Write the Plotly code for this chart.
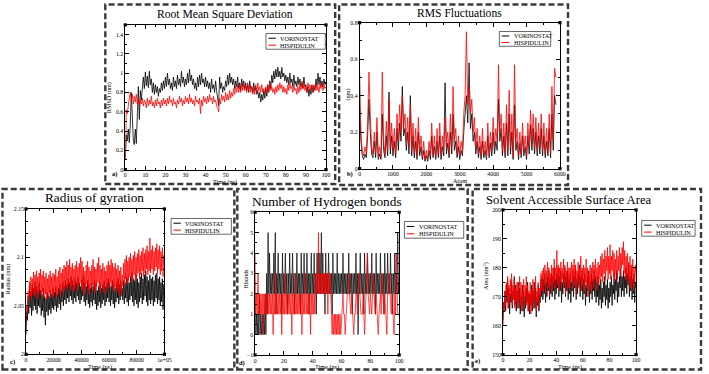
import numpy as np
import plotly.graph_objects as go

W, H = 709, 374
SERIF = "Liberation Serif"

series_names = ["VORINOSTAT", "HISPIDULIN"]
series_colors = ["#000000", "#ff0000"]

# ---------------- a) RMSD (nm) vs time (ns) ----------------
rmsd_time_ns = np.arange(0, 100.001, 0.5)
rmsd_vorinostat = [
    0.10,0.36,0.30,0.42,0.28,0.47,0.80,0.50,0.30,0.26,0.42,0.27,0.58,0.86,0.52,0.82,0.72,0.90,0.96,0.84,
    1.01,0.87,0.97,0.85,1.02,0.88,0.94,0.80,0.90,0.78,0.88,0.80,0.86,0.76,0.84,0.80,0.90,0.82,0.92,0.84,
    0.96,0.86,1.00,0.88,0.94,0.84,0.90,0.82,0.96,0.86,0.92,0.84,0.98,0.88,0.94,0.86,1.02,0.90,0.96,0.86,
    0.94,0.88,1.00,0.90,1.04,0.92,0.98,0.88,0.94,0.84,0.90,0.82,0.96,0.86,0.98,0.88,1.00,0.90,0.94,0.86,
    0.96,0.86,0.92,0.84,0.90,0.80,0.94,0.84,0.88,0.80,0.92,0.82,0.72,0.66,0.96,0.84,0.90,0.80,0.86,0.82,
    0.92,0.86,0.98,0.88,1.00,0.90,0.96,0.88,0.94,0.84,0.92,0.86,0.96,0.84,0.90,0.82,0.94,0.86,0.92,0.84,
    0.90,0.82,0.88,0.80,0.92,0.84,0.86,0.80,0.90,0.82,0.86,0.78,0.82,0.74,0.80,0.70,0.78,0.72,0.82,0.74,
    0.84,0.76,0.88,0.80,0.92,0.84,0.98,0.90,1.02,0.94,1.04,0.96,1.06,0.96,1.02,0.94,1.06,0.96,1.00,0.92,
    0.98,0.90,0.96,0.88,1.00,0.90,0.94,0.86,0.98,0.88,0.92,0.86,0.96,0.88,0.94,0.86,0.90,0.84,0.96,0.86,
    0.88,0.80,0.86,0.76,0.84,0.78,0.88,0.80,0.86,0.82,0.94,0.86,1.00,0.88,0.96,0.86,0.92,0.86,0.94,0.88,
    0.90]
rmsd_hispidulin = [
    0.10,0.62,0.58,0.70,0.74,0.80,0.72,0.78,0.68,0.76,0.70,0.78,0.68,0.74,0.66,0.72,0.68,0.74,0.66,0.72,
    0.70,0.64,0.74,0.66,0.72,0.68,0.76,0.66,0.70,0.64,0.72,0.66,0.74,0.68,0.70,0.64,0.72,0.66,0.74,0.68,
    0.72,0.66,0.74,0.68,0.76,0.70,0.72,0.66,0.74,0.68,0.70,0.64,0.72,0.68,0.76,0.70,0.74,0.66,0.72,0.68,
    0.76,0.70,0.74,0.68,0.78,0.70,0.74,0.68,0.72,0.66,0.76,0.70,0.72,0.68,0.74,0.58,0.72,0.66,0.76,0.70,
    0.74,0.68,0.76,0.70,0.78,0.72,0.74,0.68,0.76,0.70,0.72,0.66,0.64,0.60,0.74,0.68,0.78,0.72,0.76,0.70,
    0.80,0.72,0.78,0.72,0.82,0.74,0.80,0.76,0.84,0.78,0.86,0.80,0.88,0.80,0.86,0.80,0.90,0.82,0.88,0.82,
    0.86,0.80,0.90,0.82,0.88,0.80,0.86,0.78,0.84,0.78,0.88,0.80,0.90,0.82,0.86,0.80,0.88,0.80,0.84,0.78,
    0.86,0.80,0.88,0.82,0.90,0.82,0.86,0.80,0.84,0.78,0.86,0.80,0.88,0.82,0.90,0.84,0.88,0.80,0.86,0.80,
    0.84,0.78,0.88,0.82,0.90,0.84,0.86,0.80,0.88,0.82,0.84,0.78,0.86,0.80,0.88,0.82,0.92,0.84,0.88,0.82,
    0.86,0.80,0.90,0.84,0.88,0.82,0.86,0.80,0.88,0.84,0.90,0.82,0.86,0.80,0.88,0.84,0.90,0.82,0.88,0.84,
    0.86]

# ---------------- b) RMS fluctuations (nm) vs atom ----------------
rmsf_atom = np.arange(0, 5881, 40)
rmsf_vorinostat = [
    0.35,0.15,0.07,0.05,0.08,0.06,0.18,0.38,0.20,0.08,
    0.06,0.15,0.06,0.20,0.05,0.08,0.05,0.30,0.10,0.06,
    0.18,0.07,0.42,0.08,0.18,0.07,0.15,0.06,0.22,0.10,
    0.25,0.15,0.45,0.18,0.22,0.10,0.20,0.08,0.40,0.07,
    0.18,0.06,0.15,0.05,0.20,0.07,0.12,0.05,0.10,0.04,
    0.07,0.04,0.10,0.05,0.18,0.06,0.12,0.05,0.15,0.06,
    0.18,0.05,0.12,0.07,0.47,0.08,0.14,0.06,0.20,0.08,
    0.30,0.10,0.15,0.06,0.12,0.05,0.10,0.07,0.20,0.28,
    0.40,0.25,0.58,0.22,0.30,0.15,0.20,0.08,0.15,0.06,
    0.12,0.05,0.15,0.06,0.10,0.05,0.18,0.06,0.14,0.07,
    0.20,0.08,0.15,0.10,0.38,0.15,0.22,0.07,0.18,0.06,
    0.25,0.07,0.30,0.08,0.20,0.05,0.35,0.10,0.15,0.05,
    0.14,0.06,0.18,0.07,0.12,0.05,0.18,0.08,0.24,0.10,
    0.22,0.08,0.20,0.07,0.18,0.08,0.22,0.07,0.18,0.06,
    0.15,0.07,0.22,0.06,0.30,0.10,0.40,0.35]
rmsf_hispidulin = [
    0.53,0.20,0.10,0.07,0.12,0.08,0.25,0.53,0.30,0.12,
    0.08,0.20,0.09,0.28,0.07,0.12,0.06,0.53,0.15,0.08,
    0.26,0.10,0.38,0.12,0.25,0.10,0.22,0.08,0.30,0.15,
    0.35,0.20,0.40,0.22,0.30,0.15,0.28,0.12,0.35,0.10,
    0.25,0.08,0.22,0.07,0.28,0.10,0.18,0.06,0.15,0.05,
    0.10,0.05,0.15,0.07,0.25,0.08,0.18,0.06,0.22,0.08,
    0.25,0.07,0.18,0.10,0.28,0.12,0.20,0.08,0.30,0.12,
    0.45,0.15,0.22,0.08,0.18,0.07,0.15,0.10,0.30,0.40,
    0.75,0.35,0.45,0.30,0.38,0.20,0.28,0.12,0.22,0.08,
    0.18,0.07,0.22,0.08,0.15,0.06,0.25,0.08,0.20,0.10,
    0.28,0.12,0.22,0.15,0.57,0.20,0.30,0.10,0.25,0.08,
    0.35,0.10,0.43,0.12,0.30,0.06,0.57,0.15,0.22,0.07,
    0.20,0.08,0.25,0.10,0.18,0.07,0.25,0.12,0.32,0.15,
    0.30,0.12,0.28,0.10,0.25,0.12,0.30,0.10,0.25,0.08,
    0.22,0.10,0.30,0.08,0.45,0.15,0.55,0.50]

# ---------------- c) Radius of gyration (nm) vs time (ps) ----------------
rg_time_ps = np.arange(0, 100001, 500)
rg_vorinostat = [
    2.020,2.045,2.035,2.060,2.042,2.070,2.048,2.065,2.040,2.072,2.045,2.068,2.050,2.075,2.046,2.070,2.042,2.066,2.050,2.074,
    2.048,2.066,2.040,2.062,2.045,2.068,2.038,2.060,2.030,2.058,2.044,2.064,2.040,2.060,2.046,2.066,2.042,2.062,2.048,2.068,
    2.046,2.064,2.050,2.070,2.044,2.062,2.048,2.068,2.052,2.072,2.046,2.066,2.054,2.074,2.050,2.070,2.056,2.076,2.052,2.072,
    2.058,2.078,2.054,2.074,2.060,2.080,2.056,2.076,2.052,2.072,2.058,2.078,2.054,2.074,2.060,2.080,2.056,2.074,2.052,2.070,
    2.056,2.076,2.060,2.082,2.054,2.074,2.050,2.070,2.056,2.076,2.052,2.072,2.048,2.068,2.054,2.074,2.050,2.070,2.056,2.076,
    2.052,2.072,2.046,2.066,2.050,2.070,2.054,2.074,2.048,2.068,2.052,2.072,2.056,2.076,2.050,2.070,2.054,2.074,2.058,2.078,
    2.054,2.074,2.050,2.070,2.056,2.076,2.052,2.072,2.048,2.068,2.054,2.074,2.058,2.078,2.052,2.072,2.056,2.076,2.060,2.068,
    2.056,2.076,2.052,2.074,2.058,2.080,2.054,2.078,2.050,2.074,2.056,2.080,2.060,2.084,2.054,2.078,2.050,2.076,2.056,2.082,
    2.052,2.078,2.048,2.074,2.054,2.080,2.058,2.084,2.052,2.078,2.056,2.082,2.060,2.086,2.054,2.080,2.050,2.076,2.056,2.082,
    2.052,2.078,2.056,2.080,2.050,2.076,2.054,2.082,2.058,2.084,2.052,2.078,2.056,2.080,2.050,2.074,2.054,2.078,2.046,2.072,
    2.062]
rg_hispidulin = [
    2.030,2.050,2.045,2.065,2.055,2.075,2.060,2.080,2.058,2.078,2.062,2.085,2.060,2.082,2.064,2.086,2.058,2.080,2.062,2.084,
    2.066,2.088,2.060,2.082,2.064,2.086,2.058,2.080,2.062,2.084,2.056,2.078,2.060,2.082,2.064,2.086,2.058,2.080,2.062,2.084,
    2.060,2.082,2.064,2.088,2.058,2.080,2.062,2.086,2.066,2.090,2.060,2.084,2.064,2.088,2.068,2.092,2.066,2.090,2.070,2.096,
    2.068,2.092,2.072,2.098,2.066,2.090,2.070,2.094,2.064,2.088,2.068,2.092,2.072,2.096,2.066,2.090,2.070,2.094,2.074,2.100,
    2.070,2.096,2.066,2.090,2.062,2.086,2.068,2.092,2.072,2.096,2.066,2.090,2.062,2.086,2.068,2.092,2.072,2.098,2.066,2.090,
    2.064,2.088,2.070,2.094,2.074,2.100,2.068,2.092,2.064,2.088,2.070,2.094,2.066,2.090,2.062,2.086,2.068,2.092,2.072,2.096,
    2.068,2.092,2.074,2.098,2.070,2.094,2.066,2.090,2.070,2.094,2.064,2.088,2.068,2.092,2.062,2.086,2.066,2.090,2.060,2.082,
    2.070,2.094,2.074,2.098,2.078,2.102,2.072,2.096,2.076,2.100,2.080,2.104,2.074,2.098,2.078,2.102,2.082,2.106,2.076,2.100,
    2.080,2.104,2.084,2.108,2.078,2.102,2.082,2.106,2.086,2.110,2.080,2.104,2.084,2.108,2.088,2.112,2.082,2.106,2.086,2.120,
    2.084,2.108,2.088,2.112,2.082,2.106,2.086,2.110,2.090,2.114,2.084,2.108,2.088,2.112,2.082,2.106,2.086,2.110,2.080,2.102,
    2.092]

# ---------------- d) Number of hydrogen bonds vs time (ns) ----------------
hb_time_ns = np.arange(0, 100.001, 0.5)
hb_vorinostat = [
    2,0,1,0,1,0,2,0,1,0,1,0,1,0,2,0,3,1,5,2,
    4,2,3,2,3,2,4,2,5,1,3,2,4,2,3,2,3,1,4,2,
    3,2,4,2,3,1,3,2,4,2,3,2,4,2,3,1,3,2,4,2,
    3,2,3,1,4,2,3,2,4,2,3,2,4,2,3,1,3,2,4,2,
    3,2,4,2,3,1,4,2,4,2,4,2,5,2,4,2,3,1,4,2,
    3,2,4,2,3,2,3,1,4,2,3,2,3,2,4,2,3,2,3,2,
    3,2,4,2,3,2,3,2,3,2,4,2,3,2,3,1,3,2,3,2,
    4,2,3,0,3,2,4,2,3,2,3,1,4,2,3,2,4,2,3,2,
    3,2,4,2,3,2,3,1,4,2,3,2,3,2,4,2,3,2,3,1,
    4,2,3,2,4,2,3,2,4,2,3,1,3,2,4,2,3,2,5,2,
    3]
hb_hispidulin = [
    4,1,2,1,3,1,2,1,2,1,2,0,2,1,2,1,2,1,2,1,
    2,1,2,1,2,0,2,1,3,1,2,1,2,1,2,1,2,0,2,1,
    2,1,3,1,2,1,2,1,2,1,2,0,2,1,2,1,3,1,2,1,
    2,1,2,1,2,0,2,1,2,1,3,1,2,1,2,1,2,0,2,1,
    2,1,2,1,3,2,3,2,5,2,3,2,3,2,3,2,3,2,3,2,
    3,1,3,2,3,1,1,0,1,0,1,0,1,0,1,0,1,0,1,0,
    1,1,2,1,1,0,1,1,2,2,3,2,1,1,2,1,1,0,1,1,
    2,2,1,1,3,2,2,1,1,1,2,1,0,1,2,2,4,2,1,1,
    2,1,1,2,3,2,1,1,2,1,1,0,1,2,2,1,3,2,1,1,
    2,1,1,0,2,2,3,2,1,1,2,1,1,0,2,1,4,2,1,1,
    1]

# ---------------- e) SASA (nm^2) vs time (ns) ----------------
sasa_time_ns = np.arange(0, 100.001, 0.5)
sasa_vorinostat = [
    162,168,166,172,165,174,168,176,166,173,164,171,168,175,166,172,169,177,167,174,
    165,172,168,175,166,173,164,170,167,174,165,172,163,170,166,173,168,175,165,171,
    164,171,167,174,165,172,168,175,166,173,163,170,167,174,165,171,168,176,170,177,
    169,176,171,178,168,175,170,177,172,179,169,176,171,178,170,177,172,180,169,176,
    171,178,173,180,170,177,172,179,168,175,171,178,173,180,170,177,172,179,169,176,
    171,178,168,175,172,179,170,177,173,180,169,176,171,178,174,181,170,177,172,179,
    169,176,171,178,167,174,170,177,172,179,168,175,171,178,169,176,172,179,170,177,
    168,175,170,177,167,174,169,176,166,173,168,175,170,177,167,174,169,176,166,173,
    168,175,170,177,167,174,171,178,169,176,172,179,168,175,170,177,173,180,170,177,
    172,179,170,177,173,180,171,178,174,181,170,177,172,179,169,176,171,178,168,175,
    173]
sasa_hispidulin = [
    160,168,165,172,167,175,169,177,166,174,168,176,170,178,167,174,169,176,166,173,
    168,175,166,174,169,177,167,175,165,172,168,176,166,174,170,177,167,174,165,172,
    167,175,164,172,168,176,166,173,169,177,165,172,168,175,166,173,170,178,172,179,
    172,180,174,181,171,179,175,182,173,180,170,178,174,181,172,180,175,183,173,180,
    176,186,174,181,172,180,175,182,173,180,176,183,174,181,171,179,175,182,173,180,
    172,180,175,182,173,181,176,183,174,181,171,179,175,182,173,180,176,184,172,180,
    174,181,172,180,175,183,173,180,170,178,174,181,172,180,175,182,173,181,176,183,
    172,180,175,182,174,181,176,184,177,185,175,183,178,186,176,184,179,187,176,184,
    178,188,176,184,179,186,177,185,175,183,178,186,176,184,179,187,177,185,180,187,
    181,189,178,186,176,184,177,185,174,182,176,184,173,181,175,183,172,180,174,181,
    178]

rg_tickvals = [0, 20000, 40000, 60000, 80000, 100000]
rg_ticktext = ["0", "20000", "40000", "60000", "80000", "1e+05"]

# ---------------- layout helpers (pixel -> paper) ----------------
def px(x):
    return x / W

def py(y):
    return 1 - y / H

panels = [
    dict(x=rmsd_time_ns, ys=(rmsd_vorinostat, rmsd_hispidulin), plot=(125.7, 22.3, 328.7, 169.3),
         border=(105.5, 1.5, 338, 184), title="Root Mean Square Deviation", title_xy=(227, 12), tsize=11.6,
         xtitle="Time (ns)", xtitle_xy=(227, 181.8), ytitle="RMSD (nm)", ytitle_xy=(110, 96),
         label="a)", label_xy=(115, 174), leg=(268, 31, 328, 47),
         xr=[0, 100], yr=[0, 1.5], xd=10, yd=0.2, xm=5, ym=0.1, lw=0.8),
    dict(x=rmsf_atom, ys=(rmsf_vorinostat, rmsf_hispidulin), plot=(362.7, 20, 565.3, 168.3),
         border=(342, 1.5, 573.5, 185), title="RMS Fluctuations", title_xy=(464, 11), tsize=11.6,
         xtitle="Atom", xtitle_xy=(464, 180.8), ytitle="(nm)", ytitle_xy=(350, 93),
         label="b)", label_xy=(353, 174), leg=(504, 29, 556, 44),
         xr=[0, 6000], yr=[0, 0.8], xd=1000, yd=0.2, xm=500, ym=0.1, lw=0.8),
    dict(x=rg_time_ps, ys=(rg_vorinostat, rg_hispidulin), plot=(25.3, 209.3, 165.3, 357),
         border=(1.5, 189, 236, 372.5), title="Radius of gyration", title_xy=(95, 198), tsize=13.3,
         xtitle="Time (ps)", xtitle_xy=(100, 369.6), ytitle="Radius (nm)", ytitle_xy=(7, 280),
         label="c)", label_xy=(12, 365), leg=(172, 219, 233, 235),
         xr=[0, 100000], yr=[2.0, 2.15], xd=20000, yd=0.05, xm=10000, ym=0.0125, lw=0.8),
    dict(x=hb_time_ns, ys=(hb_vorinostat, hb_hispidulin), plot=(257, 212.7, 402.7, 357.7),
         border=(239, 189, 472, 372.5), title="Number of Hydrogen bonds", title_xy=(330, 202), tsize=13.3,
         xtitle="Time (ns)", xtitle_xy=(330, 369.6), ytitle="Hbonds", ytitle_xy=(247, 280),
         label="d)", label_xy=(244, 366), leg=(408, 222, 468, 239),
         xr=[0, 100], yr=[-1, 6], xd=20, yd=1, xm=10, ym=0.5, lw=0.7),
    dict(x=sasa_time_ns, ys=(sasa_vorinostat, sasa_hispidulin), plot=(507.7, 210.3, 642.3, 357.3),
         border=(477, 189, 708, 372.5), title="Solvent Accessible Surface Area", title_xy=(574, 200.5), tsize=12.7,
         xtitle="Time (ns)", xtitle_xy=(575, 369.6), ytitle="Area (nm<sup>2</sup>)", ytitle_xy=(491, 277),
         label="e)", label_xy=(482, 364), leg=(648, 221, 702, 237),
         xr=[0, 100], yr=[150, 200], xd=20, yd=10, xm=10, ym=5, lw=0.8),
]

fig = go.Figure()
shapes = []
annotations = []
tickfont = dict(family=SERIF, size=5.8, color="black")

for i, p in enumerate(panels):
    k = "" if i == 0 else str(i + 1)
    xa, ya = "x" + k, "y" + k
    for yv, name, col in zip(p["ys"], series_names, series_colors):
        fig.add_trace(go.Scatter(x=p["x"], y=yv, mode="lines", name=name,
                                 line=dict(color=col, width=p["lw"]),
                                 xaxis=xa, yaxis=ya, showlegend=False))
    x0, y0, x1, y1 = p["plot"]
    common = dict(showline=True, linecolor="black", linewidth=0.8, mirror="allticks",
                  ticks="inside", ticklen=4, tickwidth=0.6, tickcolor="black",
                  showgrid=False, zeroline=False, tickfont=tickfont,
                  minor=dict(ticks="inside", ticklen=2, tickwidth=0.5, tickcolor="black", showgrid=False))
    xcfg = dict(common, domain=[px(x0), px(x1)], range=p["xr"], anchor=ya, dtick=p["xd"],
                minor=dict(common["minor"], dtick=p["xm"]))
    if i == 2:
        xcfg.update(tickmode="array", tickvals=rg_tickvals, ticktext=rg_ticktext)
    ycfg = dict(common, domain=[py(y1), py(y0)], range=p["yr"], anchor=xa, dtick=p["yd"],
                minor=dict(common["minor"], dtick=p["ym"]))
    fig.update_layout(**{"xaxis" + k: xcfg, "yaxis" + k: ycfg})

    # corner squares (Grace style)
    for ax_, ay_ in [(0, 0), (0, 1), (1, 0), (1, 1)]:
        shapes.append(dict(type="rect", xref=xa + " domain", yref=ya + " domain",
                           xsizemode="pixel", ysizemode="pixel", xanchor=ax_, yanchor=ay_,
                           x0=-1.6, x1=1.6, y0=-1.6, y1=1.6,
                           fillcolor="black", line=dict(width=0)))
    # dashed panel border
    bx0, by0, bx1, by1 = p["border"]
    shapes.append(dict(type="rect", xref="paper", yref="paper",
                       x0=px(bx0), x1=px(bx1), y0=py(by1), y1=py(by0),
                       line=dict(color="#3a3a3a", width=2.4, dash="6px,3px"), layer="above"))
    # legend box
    lx0, ly0, lx1, ly1 = p["leg"]
    shapes.append(dict(type="rect", xref="paper", yref="paper",
                       x0=px(lx0), x1=px(lx1), y0=py(ly1), y1=py(ly0),
                       fillcolor="white", line=dict(color="black", width=0.6), layer="above"))
    rows = [ly0 + (ly1 - ly0) * 0.3, ly0 + (ly1 - ly0) * 0.74]
    for ry, name, col in zip(rows, series_names, series_colors):
        shapes.append(dict(type="line", xref="paper", yref="paper",
                           x0=px(lx0 + 2.5), x1=px(lx0 + 10), y0=py(ry), y1=py(ry),
                           line=dict(color=col, width=1), layer="above"))
        annotations.append(dict(text=name, xref="paper", yref="paper", x=px(lx0 + 12.5), y=py(ry),
                                xanchor="left", yanchor="middle", showarrow=False,
                                font=dict(family=SERIF, size=6.2, color="black")))
    # title
    annotations.append(dict(text=p["title"], xref="paper", yref="paper",
                            x=px(p["title_xy"][0]), y=py(p["title_xy"][1]),
                            xanchor="center", yanchor="middle", showarrow=False,
                            font=dict(family=SERIF, size=p["tsize"], color="black")))
    # axis titles
    annotations.append(dict(text=p["xtitle"], xref="paper", yref="paper",
                            x=px(p["xtitle_xy"][0]), y=py(p["xtitle_xy"][1]),
                            xanchor="center", yanchor="middle", showarrow=False,
                            font=dict(family=SERIF, size=6.2, color="black")))
    annotations.append(dict(text=p["ytitle"], xref="paper", yref="paper",
                            x=px(p["ytitle_xy"][0]), y=py(p["ytitle_xy"][1]),
                            xanchor="center", yanchor="middle", showarrow=False, textangle=-90,
                            font=dict(family=SERIF, size=6.2, color="black")))
    # panel label
    annotations.append(dict(text="<b>" + p["label"] + "</b>", xref="paper", yref="paper",
                            x=px(p["label_xy"][0]), y=py(p["label_xy"][1]),
                            xanchor="center", yanchor="middle", showarrow=False,
                            font=dict(family=SERIF, size=6.5, color="black")))

fig.update_layout(width=W, height=H, autosize=False,
                  margin=dict(l=0, r=0, t=0, b=0),
                  paper_bgcolor="white", plot_bgcolor="white",
                  shapes=shapes, annotations=annotations, showlegend=False)

fig.write_html("out.html")
